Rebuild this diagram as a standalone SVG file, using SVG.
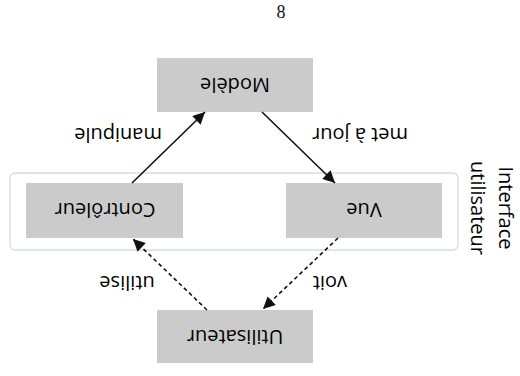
<svg xmlns="http://www.w3.org/2000/svg" width="520" height="376" viewBox="0 0 520 376">
<defs>
<style>
.box{fill:#cbcbcb}
.lbl{font-family:"Open Sans","Liberation Sans",Arial,sans-serif;font-size:20px;fill:#000;text-anchor:middle;dominant-baseline:central}
.edge{stroke:#111;stroke-width:1.6;fill:none}
.dash{stroke-dasharray:4 3}
</style>
<marker id="ahb" viewBox="0 0 10 10" refX="10" refY="5" markerWidth="16" markerHeight="12" orient="auto" markerUnits="userSpaceOnUse">
<path d="M0,0 L10,5 L0,10 z" fill="#111"/>
</marker>
</defs>
<rect width="520" height="376" fill="#fff"/>
<text x="281" y="18" font-family="Liberation Serif,serif" font-size="18" text-anchor="middle" fill="#111">8</text>
<g id="interface">
<rect x="10" y="173" width="448" height="77" rx="5" fill="none" stroke="#d6dedb" stroke-width="1.3"/>
<text class="lbl" transform="rotate(90 506 208)" x="506" y="208">Interface</text>
<text class="lbl" transform="rotate(90 478 208)" x="478" y="208">utilisateur</text>
</g>
<g id="modele">
<rect class="box" x="157" y="58" width="156" height="54"/>
<text class="lbl" transform="rotate(180 235 85)" x="235" y="85">Modèle</text>
</g>
<g id="controleur">
<rect class="box" x="26" y="183" width="157" height="55"/>
<text class="lbl" transform="rotate(180 105 210)" x="105" y="210">Contrôleur</text>
</g>
<g id="vue">
<rect class="box" x="286" y="183" width="156" height="55"/>
<text class="lbl" transform="rotate(180 364 210)" x="364" y="210">Vue</text>
</g>
<g id="utilisateur">
<rect class="box" x="157" y="310" width="156" height="53"/>
<text class="lbl" transform="rotate(180 235 337)" x="235" y="337">Utilisateur</text>
</g>
<g id="connectors">
<line class="edge" x1="132" y1="183" x2="205" y2="112" marker-end="url(#ahb)"/>
<line class="edge" x1="262" y1="112" x2="335" y2="183" marker-end="url(#ahb)"/>
<line class="edge dash" x1="338" y1="238" x2="263" y2="309" marker-end="url(#ahb)"/>
<line class="edge dash" x1="207" y1="310" x2="133" y2="239" marker-end="url(#ahb)"/>
<text class="lbl" transform="rotate(180 118 135)" x="118" y="135">manipule</text>
<text class="lbl" transform="rotate(180 360 135)" x="360" y="135">met à jour</text>
<text class="lbl" transform="rotate(180 127 283)" x="127" y="283">utilise</text>
<text class="lbl" transform="rotate(180 330 283)" x="330" y="283">voit</text>
</g>
</svg>
